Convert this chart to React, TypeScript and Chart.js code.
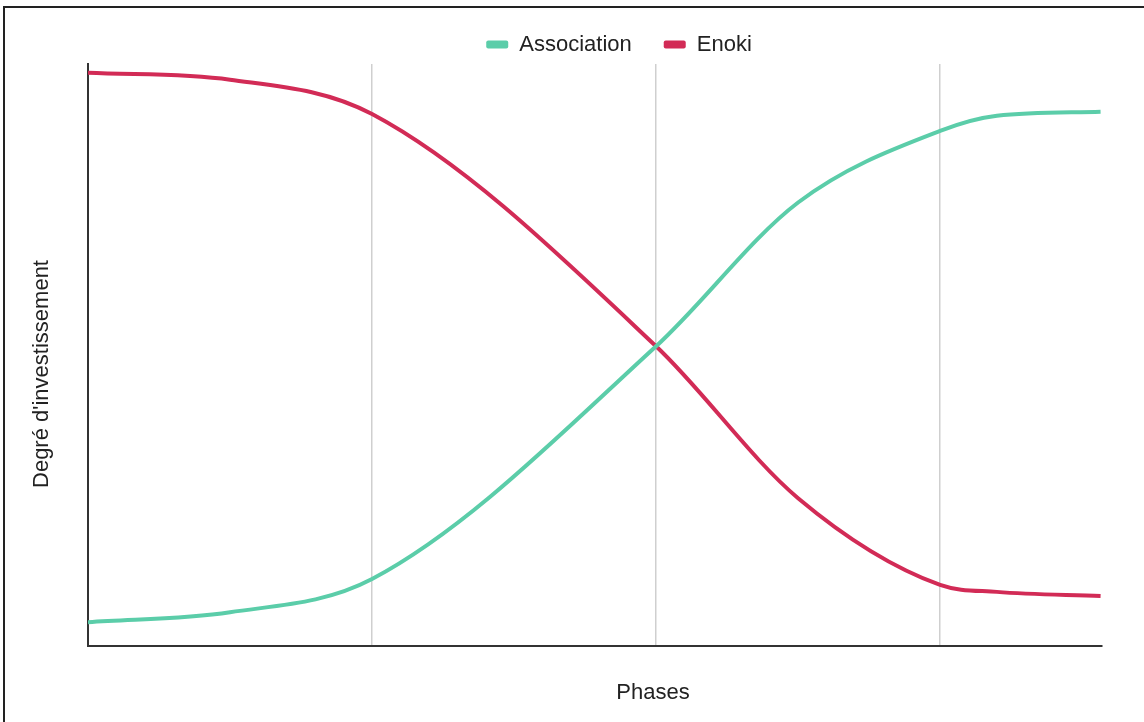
import { useEffect, useRef } from "react";
import { Chart, registerables } from "chart.js";

Chart.register(...registerables);

// Phase positions (x) and investment degree (y, 0-100)
const phases = [0, 0.5, 1, 2, 2.5, 3, 3.2, 3.565];
const association = [4.1, 5.8, 11.5, 51.5, 76.2, 88.5, 91.1, 91.8];
const enoki = [98.5, 97.3, 91.4, 51.5, 25.4, 10.5, 9.3, 8.6];
const seriesNames = ["Association", "Enoki"];
const seriesColors = ["#5BCDA9", "#D22B56"];
const xTitle = "Phases";
const yTitle = "Degré d'investissement";

const FONT = "Arial, 'Liberation Sans', Helvetica, sans-serif";

export default function App() {
  const ref = useRef<HTMLCanvasElement | null>(null);

  useEffect(() => {
    if (!ref.current) return;

    const legendShift = {
      id: "legendShift",
      afterLayout(chart: any) {
        const l = chart.legend;
        if (l) {
          l.left += 24;
          l.right += 24;
          l.top += 1.5;
          l.bottom += 1.5;
        }
      },
    };

    const axisTitles = {
      id: "axisTitles",
      afterDraw(chart: any) {
        const ctx = chart.ctx as CanvasRenderingContext2D;
        ctx.save();
        ctx.fillStyle = "#222";
        ctx.font = `22px ${FONT}`;
        ctx.textAlign = "center";
        ctx.textBaseline = "middle";
        ctx.fillText(xTitle, 653, 693);
        ctx.translate(42, 374);
        ctx.rotate(-Math.PI / 2);
        ctx.fillText(yTitle, 0, 0);
        ctx.restore();
      },
    };

    const series = [association, enoki];
    const chart = new Chart(ref.current, {
      type: "line",
      data: {
        datasets: series.map((vals, s) => ({
          label: seriesNames[s],
          data: phases.map((x, i) => ({ x, y: vals[i] })),
          borderColor: seriesColors[s],
          backgroundColor: seriesColors[s],
          borderWidth: 4,
          pointRadius: 0,
          pointHoverRadius: 0,
          cubicInterpolationMode: "monotone",
          fill: false,
        })),
      },
      options: {
        animation: false,
        responsive: true,
        maintainAspectRatio: false,
        events: [],
        layout: { padding: { left: 88, right: 42, top: 0, bottom: 76 } },
        plugins: {
          legend: {
            position: "top",
            labels: {
              boxWidth: 22,
              boxHeight: 8,
              padding: 32,
              color: "#222",
              font: { family: FONT, size: 22 },
              useBorderRadius: true,
              borderRadius: 2,
              generateLabels: (c: any) =>
                (Chart.defaults.plugins.legend.labels.generateLabels as any)(c).map((it: any) => ({
                  ...it,
                  lineWidth: 0,
                })),
            },
          },
          tooltip: { enabled: false },
        },
        scales: {
          x: {
            type: "linear",
            min: 0,
            max: 3.57,
            ticks: { display: false, stepSize: 1, includeBounds: false },
            grid: { color: "#cfcfcf", lineWidth: 1.5, drawTicks: false },
            border: { display: true, color: "#333", width: 2 },
          },
          y: {
            type: "linear",
            min: 0,
            max: 100,
            ticks: { display: false },
            grid: { display: false, drawTicks: false },
            border: { display: true, color: "#333", width: 2 },
          },
        },
      },
      plugins: [legendShift, axisTitles],
    } as any);

    return () => chart.destroy();
  }, []);

  return (
    <div style={{ position: "fixed", left: 0, top: 0, width: 1144, height: 722, background: "#fff", overflow: "hidden" }}>
      <canvas ref={ref} style={{ display: "block" }} />
      <div
        style={{
          position: "absolute",
          left: 3,
          top: 6,
          width: 1200,
          height: 800,
          borderTop: "2px solid #222",
          borderLeft: "2px solid #222",
          pointerEvents: "none",
        }}
      />
    </div>
  );
}
